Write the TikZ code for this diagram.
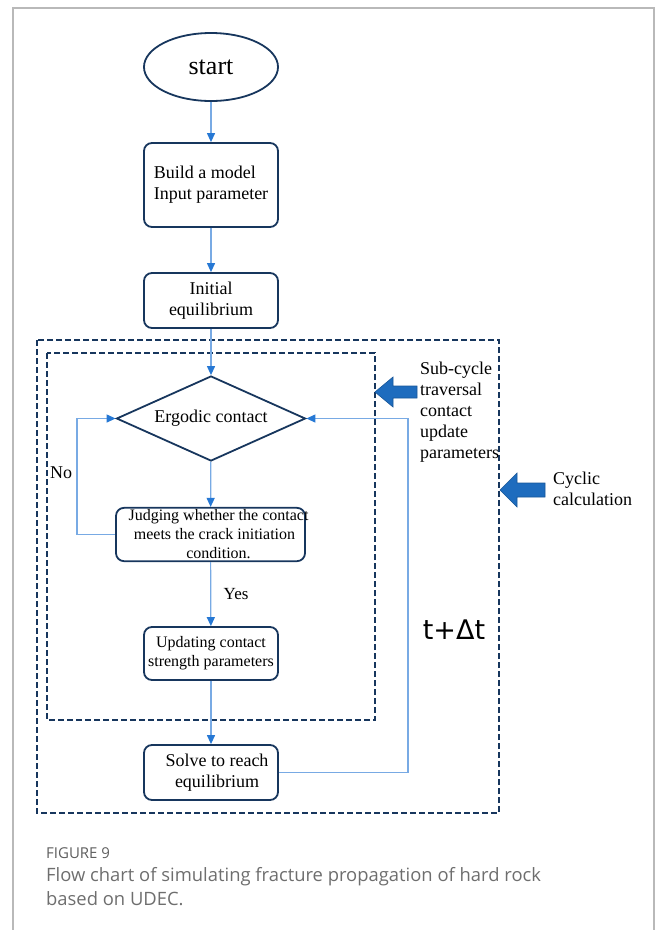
\documentclass[tikz,border=0pt]{standalone}
\usepackage{fontspec}
\setmainfont{Liberation Serif}
\newfontfamily\capfont{Open Sans}
\newfontfamily\stepfont{DejaVu Sans}
\usetikzlibrary{shapes.geometric, arrows.meta}
\definecolor{navy}{RGB}{23,54,93}
\definecolor{lineblue}{RGB}{120,170,228}
\definecolor{tipblue}{RGB}{38,120,212}
\definecolor{fillblue}{RGB}{30,108,190}
\definecolor{capgray}{RGB}{110,110,110}
\definecolor{framegray}{RGB}{185,185,185}

\begin{document}
\begin{tikzpicture}[x=1pt,y=-1pt]
	\tikzset{box/.style={draw=navy,line width=1.8pt,rounded corners=8pt,minimum width=134pt,inner sep=2pt,align=center,font=\fontsize{18}{21}\selectfont}}
	\tikzset{edge/.style={-{Triangle[width=8pt,length=9pt,color=tipblue]},draw=lineblue,line width=1.2pt}}
	\tikzset{loop/.style={dash pattern=on 6pt off 3pt,draw=navy,line width=2.2pt}}
	\tikzset{bigarrow/.style={fill=fillblue,draw=fillblue!80!black,line width=0.6pt}}
	\tikzset{note/.style={anchor=west,align=left,inner sep=0pt,font=\fontsize{18}{21}\selectfont}}
	
	\useasboundingbox (0,0) rectangle (656,930);
	\draw[framegray,line width=1.3pt] (13,930) -- (13,8) -- (654,8) -- (654,930);
	
	\node(start) at (211,67) [ellipse,draw=navy,line width=1.8pt,minimum width=134pt,minimum height=68pt,font=\fontsize{26}{28}\selectfont] {start};
	\node(build) at (211,185) [box,minimum height=84pt,align=left] {Build a model\\Input parameter};
	\node(init) at (211,300.5) [box,minimum height=55pt] {Initial\\equilibrium};
	
	\draw[loop] (37,340) rectangle (499,813);
	\draw[loop] (47,353) rectangle (375,720);
	
	\node(ergodic) at (211,418.5) [diamond,draw=navy,line width=1.8pt,aspect=2.2,inner sep=0pt,minimum width=189pt,minimum height=85pt,font=\fontsize{18}{21}\selectfont] {Ergodic contact};
	\node(judge) at (210.5,534.5) [box,minimum width=189pt,minimum height=53pt,inner xsep=0pt,font=\fontsize{16}{19}\selectfont] {\hspace*{8pt}Judging whether the contact\hspace*{-8pt}\\\hspace*{8pt}meets the crack initiation\hspace*{-8pt}\\\hspace*{8pt}condition.\hspace*{-8pt}};
	\node(update) at (211,653.5) [box,minimum height=53pt,font=\fontsize{16}{19}\selectfont] {Updating contact\\strength parameters};
	\node(solve) at (211,772.5) [box,minimum height=55pt] {\hspace*{12pt}Solve to reach\\\hspace*{12pt}equilibrium};
	
	\coordinate(noleft) at (77,470);
	\coordinate(backright) at (408,600);
	
	\draw[edge] (start) -- (build);
	\draw[edge] (build) -- (init);
	\draw[edge] (init) -- (ergodic);
	\draw[edge] (ergodic) -- (judge);
	\draw[edge] (judge) -- node[right,xshift=9pt,font=\fontsize{17}{19}\selectfont] {Yes} (update);
	\draw[edge] (update) -- (solve);
	\draw[edge] (judge.west) -- (judge.west -| noleft) |- (ergodic.west);
	\draw[edge] (solve.east) -- (solve.east -| backright) |- (ergodic.east);
	
	\node(no) at (50,473) [note] {No};
	\node(dt) at (454,630) [font=\stepfont\fontsize{27}{30}\selectfont] {t+Δt};
	
	% block arrows
	\draw[bigarrow] (375,392) -- (393,377) -- (393,386) -- (417,386) -- (417,398) -- (393,398) -- (393,407) -- cycle;
	\draw[bigarrow] (500,490) -- (517,473) -- (517,483) -- (545,483) -- (545,497) -- (517,497) -- (517,507) -- cycle;
	
	\node(subcycle) at (420,412) [note] {Sub-cycle\\traversal\\contact\\update\\parameters};
	\node(cyclic) at (553,489) [note] {Cyclic\\calculation};
	
	\node(fig) at (46,853) [anchor=west,inner sep=0pt,text=capgray!85!black,font=\capfont\fontsize{15}{17}\selectfont] {FIGURE 9};
	\node(caption) at (46,887) [anchor=west,align=left,inner sep=0pt,text=capgray,font=\capfont\fontsize{18.4}{24}\selectfont] {Flow chart of simulating fracture propagation of hard rock\\based on UDEC.};
\end{tikzpicture}
\end{document}
